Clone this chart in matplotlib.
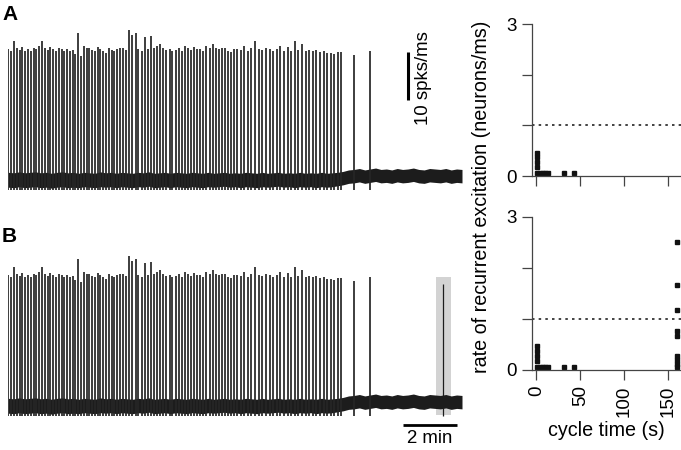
import matplotlib
matplotlib.use("Agg")
import matplotlib.pyplot as plt
import numpy as np

plt.rcParams['font.family'] = ['Liberation Sans', 'DejaVu Sans']

W, H = 681, 450

# spike train (time in s, peak rate in spks/ms) - same recording in A and B
spike_t = [0, 6, 12.5, 18.5, 25, 31, 37, 43.5, 49.5, 56, 62, 68.5, 74.5, 80.5, 87, 93,
           99.5, 105.5, 111.5, 118, 124, 130.5, 136.5, 142.5, 149, 155, 161.5, 167.5,
           173.5, 180, 186, 192.5, 198.5, 204.5, 211, 217, 223.5, 229.5, 235.5, 242, 248,
           255, 262, 268.5, 275.5, 282.5, 289, 296, 303, 310, 316.5, 323.5, 330.5, 337,
           344, 351, 358, 364.5, 371.5, 378.5, 385, 392, 399, 406, 412.5, 419.5, 426.5,
           433, 440, 447, 454, 460.5, 467.5, 474.5, 481, 488, 495, 502, 508.5,
           516.5, 524, 532.5, 540, 548.5, 556, 564.5, 572, 580.5, 588.5, 596, 604.5, 612,
           620.5, 628.5, 636, 644.5, 652, 660.5, 668.5, 676, 684.5, 692, 700.5, 708.5,
           716, 724.5, 732, 740, 768, 804]
spike_h = [27.3, 27.0, 28.9, 27.5, 27.2, 27.8, 27.0, 27.4, 26.9, 27.6, 27.3, 27.9, 28.9,
           27.5, 27.1, 27.8, 27.3, 27.0, 27.6, 27.4, 26.8, 27.3, 27.0, 27.2, 26.2, 30.6,
           25.9, 28.0, 27.6, 27.5, 27.2, 27.0, 27.7, 27.3, 26.8, 26.5, 27.5, 27.2, 26.9,
           27.3, 27.5,
           27.6, 27.2, 31.3, 30.2, 30.6, 27.4, 27.0, 29.9, 27.3, 30.0, 27.5, 27.9, 28.3,
           27.6, 27.2, 27.4, 27.0, 27.1, 27.5, 26.9, 28.0, 27.6, 27.2, 27.8, 27.3, 27.3,
           26.8, 28.0, 27.5, 28.4, 27.6, 27.4, 27.6, 27.5, 27.0, 26.7, 27.4, 27.3,
           27.2, 27.9, 27.0, 27.5, 29.0, 27.4, 27.1, 27.6, 27.3, 27.0, 27.4, 27.9, 27.0,
           27.7, 26.9, 29.0, 27.2, 28.3, 26.9, 27.1, 26.8, 27.2, 26.6, 26.8, 26.4, 26.5,
           26.3, 26.6, 26.7, 26.0, 27.0]
extra_spike_t = 966
extra_spike_h = 25.5

# baseline noise envelope, sampled every 12 s
env_t = list(range(0, 1009, 12))
env_hi = [1.6, 1.5, 1.7, 1.5, 1.6, 1.7, 1.5, 1.6, 1.4, 1.6,
          1.7, 1.5, 1.6, 1.4, 1.6, 1.5, 1.4, 1.7, 1.5, 1.6,
          1.4, 1.6, 1.5, 1.4, 1.6, 1.5, 1.7, 1.4, 1.5, 1.6,
          1.4, 1.6, 1.5, 1.4, 1.6, 1.5, 1.4, 1.6, 1.4, 1.5,
          1.6, 1.4, 1.5, 1.4, 1.6, 1.5, 1.4, 1.6, 1.4, 1.5,
          1.6, 1.4, 1.5, 1.4, 1.6, 1.4, 1.5, 1.4, 1.6, 1.4,
          1.5, 1.6, 1.8, 2.1, 2.2, 2.4, 2.1, 2.3, 2.5, 2.2,
          2.3, 2.1, 2.4, 2.2, 2.3, 2.5, 2.2, 2.1, 2.4, 2.3,
          2.2, 2.4, 2.1, 2.3, 2.2]
env_lo = [-1.5, -1.6, -1.4, -1.6, -1.5, -1.4, -1.6, -1.5, -1.7, -1.5,
          -1.4, -1.6, -1.5, -1.6, -1.4, -1.5, -1.6, -1.4, -1.5, -1.4,
          -1.6, -1.4, -1.5, -1.6, -1.4, -1.5, -1.3, -1.6, -1.5, -1.4,
          -1.6, -1.4, -1.5, -1.6, -1.4, -1.5, -1.6, -1.4, -1.5, -1.4,
          -1.3, -1.5, -1.4, -1.6, -1.4, -1.5, -1.6, -1.4, -1.5, -1.4,
          -1.3, -1.5, -1.4, -1.6, -1.4, -1.5, -1.4, -1.6, -1.4, -1.5,
          -1.4, -1.2, -1.0, -0.7, -0.6, -0.4, -0.7, -0.5, -0.3, -0.6,
          -0.5, -0.7, -0.4, -0.6, -0.5, -0.3, -0.6, -0.7, -0.4, -0.5,
          -0.6, -0.4, -0.7, -0.5, -0.6]

# cycle time vs rate of recurrent excitation
cyc_a = [1, 1, 1, 1, 1, 4, 7, 10, 13, 31, 43]
rate_a = [0.06, 0.18, 0.27, 0.37, 0.45, 0.06, 0.06, 0.06, 0.06, 0.06, 0.06]
cyc_b = [1, 1, 1, 1, 1, 4, 7, 10, 13, 31, 43,
         161, 161, 161, 161, 161, 161, 161, 161, 161]
rate_b = [0.06, 0.18, 0.27, 0.37, 0.47, 0.06, 0.06, 0.06, 0.06, 0.06, 0.06,
          2.5, 1.67, 1.18, 0.76, 0.67, 0.27, 0.2, 0.12, 0.06]
threshold = 1.0

fig = plt.figure(figsize=(W / 100, H / 100), dpi=100)


def px_axes(x0, y0, x1, y1):
    return fig.add_axes([x0 / W, 1 - y1 / H, (x1 - x0) / W, (y1 - y0) / H])


def draw_trace(ax, extra=False):
    ax.fill_between(env_t, env_lo, env_hi, color='#1c1c1c', lw=0)
    ax.vlines(spike_t, -2.0, spike_h, color='#262626', lw=1.25)
    if extra:
        ax.axvspan(950, 983, ymin=0.018, ymax=0.86, color='#d3d3d3', lw=0, zorder=0)
        ax.vlines([extra_spike_t], -2.0, extra_spike_h, color='#1c1c1c', lw=0.9)
    ax.set_xlim(-1, 1008)
    ax.set_ylim(-2.5, 31.7)
    ax.axis('off')


ax_a = px_axes(8, 28, 462, 192)
draw_trace(ax_a)
ax_a.plot([887, 887], [16.7, 26.7], color='black', lw=2.2, solid_capstyle='butt')
ax_a.text(922, 21.3, '10 spks/ms', rotation=90, ha='center', va='center', fontsize=13.4)

ax_b = px_axes(8, 254, 462, 418)
draw_trace(ax_b, extra=True)
ax_b.plot([876, 996], [-4.0, -4.0], color='black', lw=2.0, solid_capstyle='butt',
          clip_on=False)
ax_b.text(936, -4.9, '2 min', ha='center', va='top', fontsize=13.4)


def cycle_axes(ax, cyc, rate, labels):
    ax.plot(cyc, rate, 's', color='#111111', ms=2.9, clip_on=False)
    ax.axhline(threshold, color='#222222', lw=1.2, ls=(0, (1.5, 2.5)))
    ax.set_xlim(-5, 165)
    ax.set_ylim(0, 3)
    ax.set_xticks([0, 50, 100, 150])
    ax.set_yticks([0, 1, 2, 3])
    ax.set_yticklabels(['0', '', '', '3'])
    if labels:
        ax.set_xticklabels(['0', '50', '100', '150'], rotation=90)
        ax.set_xlabel('cycle time (s)', fontsize=14.2, labelpad=3)
    else:
        ax.set_xticklabels([])
    for s in ['top', 'right']:
        ax.spines[s].set_visible(False)
    for s in ['left', 'bottom']:
        ax.spines[s].set_color('#444444')
        ax.spines[s].set_linewidth(0.9)
    ax.tick_params(direction='out', length=7, width=0.9, color='#444444',
                   labelsize=13.5, pad=4)


cycle_axes(px_axes(532, 24, 681, 176), cyc_a, rate_a, False)
cycle_axes(px_axes(532, 217, 681, 370), cyc_b, rate_b, True)

fig.text(481 / W, 1 - 197 / H, 'rate of recurrent excitation (neurons/ms)',
         rotation=90, ha='center', va='center', fontsize=14.2)
fig.text(2 / W, 1 - 15 / H, 'A', fontsize=15, fontweight='bold', va='center')
fig.text(2 / W, 1 - 237 / H, 'B', fontsize=15, fontweight='bold', va='center')

fig.savefig('out.png', dpi=100)
